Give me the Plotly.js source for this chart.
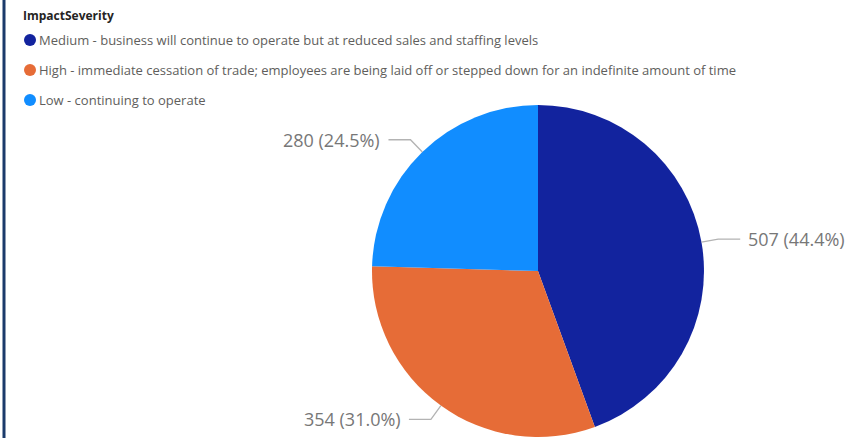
<!DOCTYPE html>
<html>
<head>
<meta charset="utf-8">
<script src="https://cdn.plot.ly/plotly-3.0.1.min.js"></script>
<style>html,body{margin:0;padding:0;background:#fff;}#chart{width:848px;height:438px;}</style>
</head>
<body>
<div id="chart"></div>
<script>
const legendTitle = "ImpactSeverity";
const categories = [
  "Medium - business will continue to operate but at reduced sales and staffing levels",
  "High - immediate cessation of trade; employees are being laid off or stepped down for an indefinite amount of time",
  "Low - continuing to operate"
];
const values = [507, 354, 280];
const colors = ["#12239E", "#E66C37", "#118DFF"];

const W = 848, H = 438;
const cx = 538, cy = 271, R = 166;
const FONT = "Segoe UI, Open Sans, sans-serif";

const total = values.reduce((a, b) => a + b, 0);
const px = x => x / W;
const py = y => 1 - y / H;

const traces = [{
  type: "pie",
  labels: categories,
  values: values,
  sort: false,
  direction: "clockwise",
  rotation: 0,
  marker: {colors: colors, line: {width: 0}},
  textinfo: "none",
  hoverinfo: "label+value+percent",
  showlegend: false,
  domain: {x: [px(cx - R), px(cx + R)], y: [py(cy + R), py(cy - R)]}
}];

const shapes = [{
  type: "line", xref: "paper", yref: "paper",
  x0: px(4), x1: px(4), y0: 0, y1: 1,
  line: {color: "#1B3A6B", width: 3}
}];
const annotations = [];

// legend (built from categories/colors)
annotations.push({
  xref: "paper", yref: "paper", x: px(21), y: py(15),
  xanchor: "left", yanchor: "middle", showarrow: false,
  text: "<b>" + legendTitle + "</b>",
  font: {family: FONT, size: 12, color: "#252423"}
});
categories.forEach((c, i) => {
  const ly = 40 + i * 30;
  shapes.push({
    type: "circle", xref: "paper", yref: "paper",
    x0: px(24), x1: px(36), y0: py(ly + 6), y1: py(ly - 6),
    fillcolor: colors[i], line: {width: 0}
  });
  annotations.push({
    xref: "paper", yref: "paper", x: px(37), y: py(ly),
    xanchor: "left", yanchor: "middle", showarrow: false,
    text: c, font: {family: FONT, size: 13, color: "#605E5C"}
  });
});

// data labels with leader lines
let cum = 0;
values.forEach((v, i) => {
  const mid = (cum + v / 2) / total * 2 * Math.PI;
  cum += v;
  const sx = Math.sin(mid), sy = -Math.cos(mid);
  const ex = cx + R * sx, ey = cy + R * sy;
  const elx = cx + (R + 17) * sx, ely = cy + (R + 17) * sy;
  const right = sx >= 0;
  const hx = elx + (right ? 22 : -22);
  shapes.push({
    type: "path", xref: "paper", yref: "paper",
    path: `M ${px(ex)} ${py(ey)} L ${px(elx)} ${py(ely)} L ${px(hx)} ${py(ely)}`,
    line: {color: "#B3B3B3", width: 1.3}
  });
  const pct = (v / total * 100).toFixed(1);
  annotations.push({
    xref: "paper", yref: "paper",
    x: px(hx + (right ? 6 : -6)), y: py(ely),
    xanchor: right ? "left" : "right", yanchor: "middle",
    text: `${v} (${pct}%)`, showarrow: false,
    font: {family: FONT, size: 18, color: "#777777"}
  });
});

const layout = {
  width: W, height: H,
  margin: {l: 0, r: 0, t: 0, b: 0},
  paper_bgcolor: "#ffffff", plot_bgcolor: "#ffffff",
  showlegend: false,
  shapes: shapes,
  annotations: annotations
};

Plotly.newPlot("chart", traces, layout, {displayModeBar: false, staticPlot: true});
</script>
</body>
</html>
